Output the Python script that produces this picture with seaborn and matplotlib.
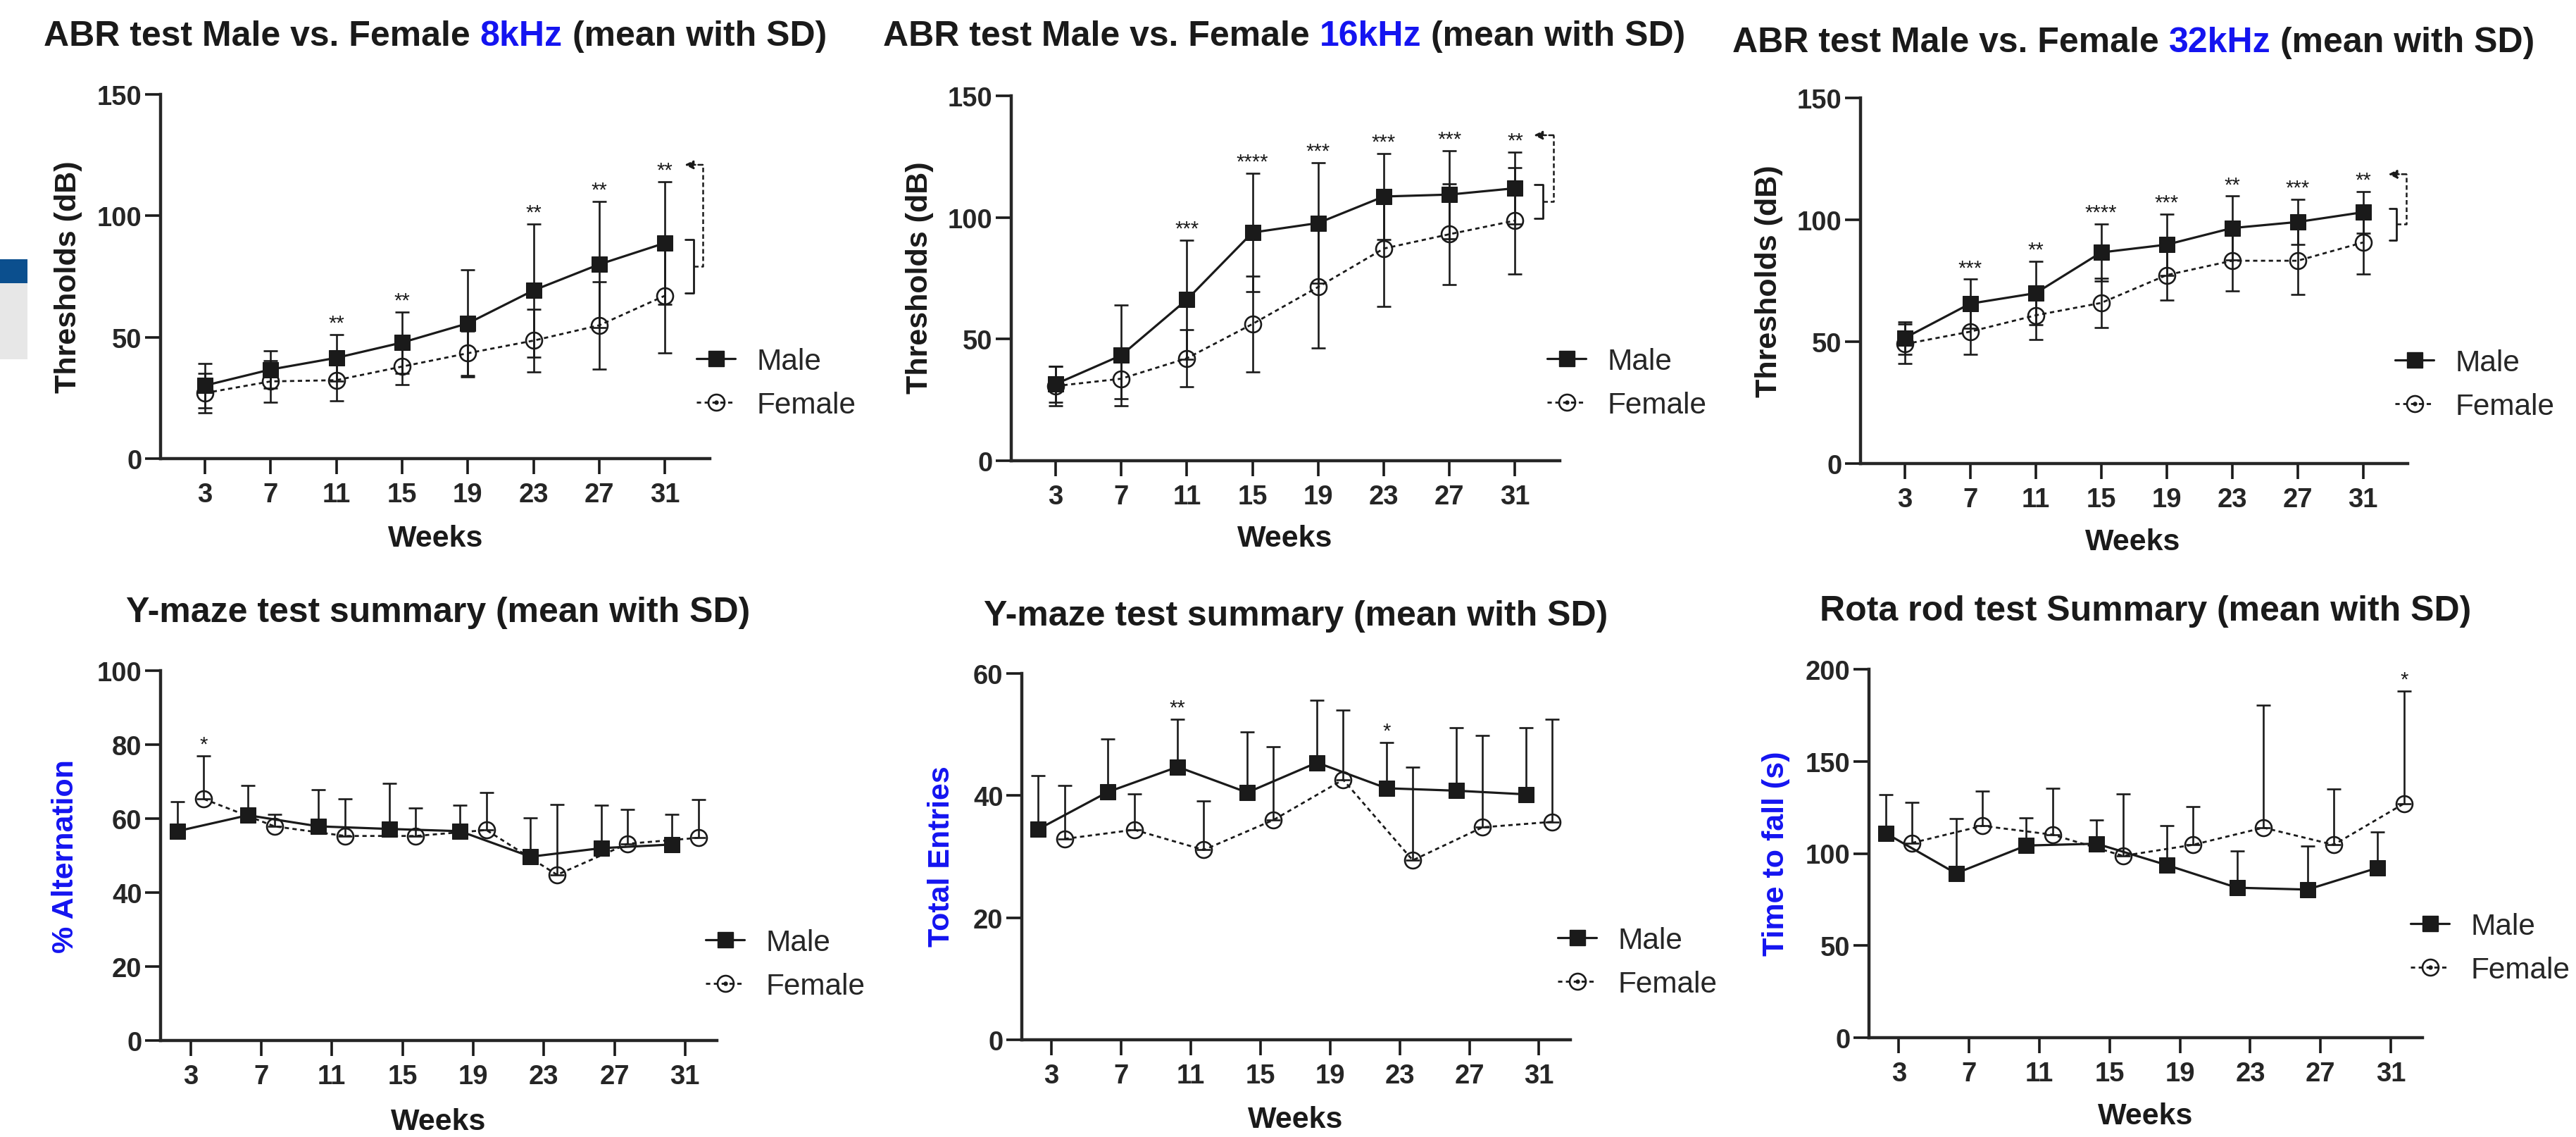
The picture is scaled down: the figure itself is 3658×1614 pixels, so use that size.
import numpy as np
import pandas as pd
import seaborn as sns
import matplotlib
matplotlib.use("Agg")
import matplotlib.pyplot as plt
from matplotlib.lines import Line2D
from matplotlib.patches import Rectangle
from matplotlib.legend_handler import HandlerTuple

# ---------------- data ----------------
weeks = [3, 7, 11, 15, 19, 23, 27, 31]
week_labels = ["3", "7", "11", "15", "19", "23", "27", "31"]

abr8_male = [30.1, 36.7, 41.5, 47.8, 55.7, 69.3, 80.0, 88.8]
abr8_male_sd = [9.1, 7.7, 9.7, 12.6, 22.0, 27.4, 25.9, 25.2]
abr8_female = [27.0, 31.8, 32.3, 37.9, 43.4, 48.6, 54.9, 67.1]
abr8_female_sd = [8.0, 8.5, 8.5, 7.4, 9.2, 13.0, 18.0, 23.7]
abr8_stars = ["", "", "**", "**", "", "**", "**", "**"]

abr16_male = [31.5, 43.3, 66.2, 93.8, 97.7, 108.6, 109.4, 112.0]
abr16_male_sd = [7.4, 20.7, 24.4, 24.4, 24.7, 17.7, 18.1, 14.8]
abr16_female = [30.7, 33.7, 42.1, 56.2, 71.4, 87.2, 93.1, 98.7]
abr16_female_sd = [8.1, 8.1, 11.8, 19.6, 25.1, 23.7, 20.7, 21.9]
abr16_stars = ["", "", "***", "****", "***", "***", "***", "**"]

abr32_male = [51.5, 65.6, 69.9, 86.6, 89.8, 96.6, 99.1, 103.1]
abr32_male_sd = [6.6, 10.0, 13.0, 11.6, 12.6, 13.1, 9.3, 8.6]
abr32_female = [49.0, 54.1, 60.8, 65.9, 77.3, 83.2, 83.2, 90.7]
abr32_female_sd = [8.1, 9.3, 9.8, 10.0, 10.3, 12.4, 13.9, 13.0]
abr32_stars = ["", "***", "**", "****", "***", "**", "***", "**"]

alt_male = [56.6, 60.9, 57.9, 57.2, 56.6, 49.7, 52.0, 53.0]
alt_male_sd = [8.0, 8.1, 9.9, 12.3, 7.0, 10.5, 11.7, 8.1]
alt_female = [65.3, 57.9, 55.3, 55.3, 56.9, 44.8, 53.2, 54.8]
alt_female_sd = [11.6, 3.2, 10.0, 7.6, 10.1, 19.1, 9.2, 10.4]
alt_male_stars = ["", "", "", "", "", "", "", ""]
alt_female_stars = ["*", "", "", "", "", "", "", ""]

entries_male = [34.5, 40.6, 44.7, 40.5, 45.4, 41.2, 40.8, 40.2]
entries_male_sd = [8.8, 8.7, 7.8, 9.9, 10.2, 7.5, 10.3, 10.9]
entries_female = [32.9, 34.4, 31.1, 36.0, 42.6, 29.4, 34.8, 35.7]
entries_female_sd = [8.8, 5.9, 8.0, 12.0, 11.4, 15.3, 15.1, 16.8]
entries_male_stars = ["", "", "**", "", "", "*", "", ""]
entries_female_stars = ["", "", "", "", "", "", "", ""]

rota_male = [111.0, 89.2, 104.3, 105.3, 93.7, 81.4, 80.4, 92.2]
rota_male_sd = [21.0, 29.8, 15.1, 12.7, 21.5, 19.9, 23.7, 19.4]
rota_female = [105.7, 115.0, 110.2, 98.7, 104.7, 114.0, 104.7, 127.1]
rota_female_sd = [22.2, 18.9, 25.3, 33.8, 20.8, 66.5, 30.2, 61.0]
rota_male_stars = ["", "", "", "", "", "", "", ""]
rota_female_stars = ["", "", "", "", "", "", "", "*"]

# ---------------- style ----------------
sns.set_theme(style="ticks")
plt.rcParams["font.family"] = ["Liberation Sans", "DejaVu Sans"]
plt.rcParams["axes.linewidth"] = 3.2

W, H = 3658, 1615
BLUE = "#1414f0"
fig = plt.figure(figsize=(W / 100, H / 100), dpi=100)
fig.patch.set_facecolor("white")

# slide artefact at the left edge
fig.add_artist(Rectangle((0, 1 - 403 / H), 39 / W, 34 / H, transform=fig.transFigure,
                         facecolor="#0b4f8e", edgecolor="none"))
fig.add_artist(Rectangle((0, 1 - 511 / H), 39 / W, 108 / H, transform=fig.transFigure,
                         facecolor="#e7e7e7", edgecolor="none"))


def fx(px):
    return px / W


def fy(py):
    return 1 - py / H


def make_ax(l, r, t, b):
    return fig.add_axes([l / W, 1 - b / H, (r - l) / W, (b - t) / H])


def style_ax(ax, ylim, yticks, xlim):
    ax.set_xlim(*xlim)
    ax.set_ylim(*ylim)
    ax.set_xticks(weeks)
    ax.set_xticklabels(week_labels)
    ax.set_yticks(yticks)
    ax.set_yticklabels([str(v) for v in yticks])
    sns.despine(ax=ax)
    ax.tick_params(axis="both", direction="out", length=16, width=2.6, labelsize=27.5, color="k")
    ax.tick_params(axis="x", pad=8)
    ax.tick_params(axis="y", pad=3)
    for lb in ax.get_xticklabels() + ax.get_yticklabels():
        lb.set_fontweight("bold")
    ax.set_xlabel("")
    ax.set_ylabel("")
    ax.patch.set_alpha(0)


def draw_series(ax, x, y, sd, male, upper_only):
    x = np.asarray(x, dtype=float)
    y = np.asarray(y, dtype=float)
    sd = np.asarray(sd, dtype=float)
    lower = np.zeros_like(sd) if upper_only else sd
    ax.errorbar(x, y, yerr=[lower, sd], fmt="none", ecolor="k", elinewidth=1.9,
                capsize=7.5, capthick=1.9, zorder=2, clip_on=False)
    if male:
        sns.lineplot(x=x, y=y, ax=ax, color="k", lw=2.3, marker="s", ms=16.5,
                     mfc="k", mec="k", zorder=4, clip_on=False, legend=False)
    else:
        sns.lineplot(x=x, y=y, ax=ax, color="k", lw=2.0, linestyle=(0, (2.2, 1.8)),
                     marker="o", ms=16.5, mfc="none", mec="k", mew=1.9,
                     zorder=3, clip_on=False, legend=False)


def add_stars(ax, x, top, stars, offset=6):
    for xi, ti, s in zip(x, top, stars):
        if s:
            ax.annotate(s, (xi, ti), xytext=(0, offset), textcoords="offset points",
                        ha="center", va="baseline", fontsize=21, color="k",
                        annotation_clip=False)


def add_legend(ax, x_marker_px, y_center_px):
    h_m = Line2D([], [], color="k", lw=2.3, marker="s", ms=16.5, mfc="k", mec="k")
    h_f = Line2D([], [], color="k", lw=2.0, linestyle=(0, (2.2, 1.8)), marker="o",
                 ms=16.5, mfc="none", mec="k", mew=1.9)
    h_d = Line2D([], [], color="k", ls="none", marker="o", ms=3.5)
    ax.legend([h_m, (h_f, h_d)], ["Male", "Female"], loc="center left",
              bbox_to_anchor=(fx(x_marker_px - 27), fy(y_center_px)),
              bbox_transform=fig.transFigure, frameon=False, fontsize=30.5,
              handlelength=1.3, handletextpad=0.72, labelspacing=0.52,
              borderpad=0, borderaxespad=0,
              handler_map={tuple: HandlerTuple(ndivide=1)})


renderer = fig.canvas.get_renderer()


def text_w(s, **kw):
    t = fig.text(0, 0, s, **kw)
    w = t.get_window_extent(renderer).width
    t.remove()
    return w


def colored_title(center_px, baseline_px, parts):
    kw = dict(fontsize=36, fontweight="bold")
    full = "".join(p for p, c in parts)
    total = text_w(full, **kw)
    left = center_px - total / 2
    acc = ""
    for p, c in parts:
        acc += p
        x = left + text_w(acc, **kw) - text_w(p.strip(), **kw)
        fig.text(fx(x), fy(baseline_px), p.strip(), color=c, ha="left", va="baseline", **kw)


def plain_title(center_px, baseline_px, s):
    fig.text(fx(center_px), fy(baseline_px), s, ha="center", va="baseline",
             fontsize=36, fontweight="bold", color="k")


def ylabel(x_px, y_px, s, color):
    fig.text(fx(x_px), fy(y_px), s, rotation=90, ha="center", va="center",
             fontsize=31, fontweight="bold", color=color)


def xlabel(x_px, y_px):
    fig.text(fx(x_px), fy(y_px), "Weeks", ha="center", va="center",
             fontsize=31, fontweight="bold", color="k")


def bracket(ax, m, f, top, b0, b1, b2):
    x31 = weeks[-1]
    ax.plot([x31 + b0, x31 + b1, x31 + b1, x31 + b0], [m, m, f, f], color="k", lw=2.0,
            clip_on=False, zorder=5)
    mid = (m + f) / 2
    ax.plot([x31 + b1, x31 + b2, x31 + b2], [mid, mid, top], color="k", lw=1.8,
            linestyle=(0, (2.6, 1.6)), clip_on=False, zorder=5)
    ax.annotate("", xy=(x31 + b0 - 0.05, top), xytext=(x31 + b2, top),
                arrowprops=dict(arrowstyle="-|>", lw=1.8, color="k", linestyle=(0, (2.6, 1.6)),
                                mutation_scale=18, shrinkA=0, shrinkB=0),
                annotation_clip=False)


# ---------------- top row: ABR ----------------
top_panels = [
    dict(box=(228, 1008, 135, 652), m=abr8_male, msd=abr8_male_sd, f=abr8_female,
         fsd=abr8_female_sd, stars=abr8_stars, freq="8kHz", title=(618, 65),
         ylab=(97, 393), xlab=(619, 765), leg=(1016, 545), br=(1.25, 1.75, 2.3)),
    dict(box=(1436, 2215, 137, 655), m=abr16_male, msd=abr16_male_sd, f=abr16_female,
         fsd=abr16_female_sd, stars=abr16_stars, freq="16kHz", title=(1824, 65),
         ylab=(1306, 394), xlab=(1825, 765), leg=(2224, 545), br=(1.2, 1.7, 2.35)),
    dict(box=(2642, 3419, 140, 659), m=abr32_male, msd=abr32_male_sd, f=abr32_female,
         fsd=abr32_female_sd, stars=abr32_stars, freq="32kHz", title=(3030, 74),
         ylab=(2512, 399), xlab=(3029, 770), leg=(3428, 547), br=(1.6, 2.05, 2.65)),
]

for p in top_panels:
    ax = make_ax(*p["box"])
    draw_series(ax, weeks, p["f"], p["fsd"], male=False, upper_only=False)
    draw_series(ax, weeks, p["m"], p["msd"], male=True, upper_only=False)
    style_ax(ax, (0, 150), [0, 50, 100, 150], (0.3, 33.73))
    tops = [a + b for a, b in zip(p["m"], p["msd"])]
    add_stars(ax, weeks, tops, p["stars"])
    bracket(ax, p["m"][-1] + 1.5, p["f"][-1] + 1.0, tops[-1] + 7.0, *p["br"])
    add_legend(ax, *p["leg"])
    colored_title(p["title"][0], p["title"][1],
                  [("ABR test Male vs. Female", "k"), (" " + p["freq"], BLUE),
                   (" (mean with SD)", "k")])
    ylabel(*p["ylab"], "Thresholds (dB)", "k")
    xlabel(*p["xlab"])

# ---------------- bottom row ----------------
off = 0.75
bottom_panels = [
    dict(box=(228, 1018, 953, 1478), m=alt_male, msd=alt_male_sd, f=alt_female,
         fsd=alt_female_sd, ms=alt_male_stars, fs=alt_female_stars,
         ylim=(0, 100), yt=[0, 20, 40, 60, 80, 100], yl="% Alternation",
         title=(622, 883, "Y-maze test summary (mean with SD)"),
         ylab=(93, 1216), xlab=(623, 1593), leg=(1029, 1370)),
    dict(box=(1451, 2230, 957, 1477), m=entries_male, msd=entries_male_sd, f=entries_female,
         fsd=entries_female_sd, ms=entries_male_stars, fs=entries_female_stars,
         ylim=(0, 60), yt=[0, 20, 40, 60], yl="Total Entries",
         title=(1840, 888, "Y-maze test summary (mean with SD)"),
         ylab=(1337, 1216), xlab=(1840, 1590), leg=(2239, 1367)),
    dict(box=(2654, 3440, 951, 1474), m=rota_male, msd=rota_male_sd, f=rota_female,
         fsd=rota_female_sd, ms=rota_male_stars, fs=rota_female_stars,
         ylim=(0, 200), yt=[0, 50, 100, 150, 200], yl="Time to fall (s)",
         title=(3047, 881, "Rota rod test Summary (mean with SD)"),
         ylab=(2522, 1212), xlab=(3047, 1585), leg=(3450, 1347)),
]

for p in bottom_panels:
    ax = make_ax(*p["box"])
    xm = [w - off for w in weeks]
    xf = [w + off for w in weeks]
    draw_series(ax, xf, p["f"], p["fsd"], male=False, upper_only=True)
    draw_series(ax, xm, p["m"], p["msd"], male=True, upper_only=True)
    style_ax(ax, p["ylim"], p["yt"], (1.3, 32.8))
    add_stars(ax, xm, [a + b for a, b in zip(p["m"], p["msd"])], p["ms"])
    add_stars(ax, xf, [a + b for a, b in zip(p["f"], p["fsd"])], p["fs"])
    add_legend(ax, *p["leg"])
    plain_title(*p["title"])
    ylabel(*p["ylab"], p["yl"], BLUE)
    xlabel(*p["xlab"])

fig.savefig("out.png", dpi=100, facecolor="white")
